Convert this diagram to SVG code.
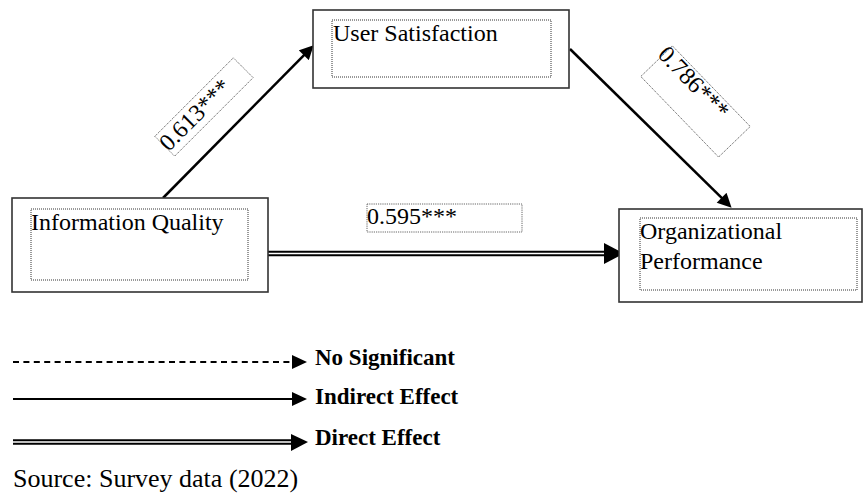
<svg xmlns="http://www.w3.org/2000/svg" width="864" height="495" viewBox="0 0 864 495">
  <style>
    .box { fill: #fff; stroke: #333; stroke-width: 1.6; }
    .inner { fill: none; stroke: #333; stroke-width: 1; stroke-dasharray: 1 1; }
    .lbl { fill: #fff; stroke: #555; stroke-width: 0.9; stroke-dasharray: 1.2 1; }
    .t { font-family: "Liberation Serif", "Times New Roman", serif; font-size: 24px; fill: #000; }
    .lg { font-family: "Liberation Serif", "Times New Roman", serif; font-size: 23px; font-weight: bold; fill: #000; }
    .src { font-family: "Liberation Serif", "Times New Roman", serif; font-size: 26px; fill: #000; }
    .edge { stroke: #000; stroke-width: 2.5; fill: none; }
    .dbl-out { stroke: #000; stroke-width: 5.5; fill: none; }
    .dbl-in { stroke: #fff; stroke-width: 1.6; fill: none; }
    .head { fill: #000; }
  </style>
  <defs>
    <marker id="ah" viewBox="0 0 10 10" refX="7.5" refY="5" markerWidth="16" markerHeight="14" markerUnits="userSpaceOnUse" orient="auto">
      <path d="M0,0 L10,5 L0,10 z" fill="#000"/>
    </marker>
  </defs>

  <rect width="864" height="495" fill="#fff"/>

  <!-- connectors -->
  <g id="connectors">
    <line class="edge" x1="163" y1="198" x2="311.2" y2="47.8" marker-end="url(#ah)"/>
    <line class="edge" x1="570" y1="49" x2="729.1" y2="205.2" marker-end="url(#ah)"/>
    <line class="dbl-out" x1="268" y1="253.5" x2="606" y2="253.5"/>
    <line class="dbl-in" x1="268" y1="253.5" x2="607" y2="253.5"/>
    <polygon class="head" points="604,243 624,253.5 604,264"/>
  </g>

  <!-- nodes -->
  <g id="information-quality">
    <rect class="box" x="12" y="198" width="256" height="94"/>
    <rect class="inner" x="31" y="209" width="217" height="71"/>
    <text class="t" x="31" y="230">Information Quality</text>
  </g>

  <g id="user-satisfaction">
    <rect class="box" x="313" y="10" width="256" height="78"/>
    <rect class="inner" x="332" y="20" width="219" height="57"/>
    <text class="t" x="333" y="41">User Satisfaction</text>
  </g>

  <g id="organizational-performance">
    <rect class="box" x="619" y="209" width="243" height="93"/>
    <rect class="inner" x="640" y="218" width="217" height="72"/>
    <text class="t" x="640" y="239">Organizational</text>
    <text class="t" x="640" y="269">Performance</text>
  </g>

  <!-- path coefficients -->
  <g id="label-iq-us" transform="translate(204,107) rotate(-45)">
    <rect class="lbl" x="-55.5" y="-14" width="111" height="28"/>
    <text class="t" x="-57" y="7">0.613***</text>
  </g>

  <g id="label-us-op" transform="translate(695.5,101.5) rotate(46)">
    <rect class="lbl" x="-56" y="-22" width="112" height="44"/>
    <text class="t" x="-60" y="-4">0.786***</text>
  </g>

  <g id="label-iq-op">
    <rect class="lbl" x="367" y="204" width="155" height="28"/>
    <text class="t" x="367" y="224">0.595***</text>
  </g>

  <!-- legend -->
  <g id="legend">
    <line x1="13" y1="362" x2="293" y2="362" stroke="#000" stroke-width="2" stroke-dasharray="6 4.4"/>
    <polygon class="head" points="292,355 307,362 292,369"/>
    <text class="lg" x="315" y="365">No Significant</text>

    <line x1="13" y1="399" x2="294" y2="399" stroke="#000" stroke-width="2.2"/>
    <polygon class="head" points="292,392 307,399 292,406"/>
    <text class="lg" x="315" y="404">Indirect Effect</text>

    <line class="dbl-out" x1="13" y1="442" x2="293" y2="442"/>
    <line class="dbl-in" x1="13" y1="442" x2="293" y2="442"/>
    <polygon class="head" points="291,434 308,442 291,451"/>
    <text class="lg" x="315" y="445">Direct Effect</text>

    <text class="src" x="13" y="487">Source: Survey data (2022)</text>
  </g>
</svg>
